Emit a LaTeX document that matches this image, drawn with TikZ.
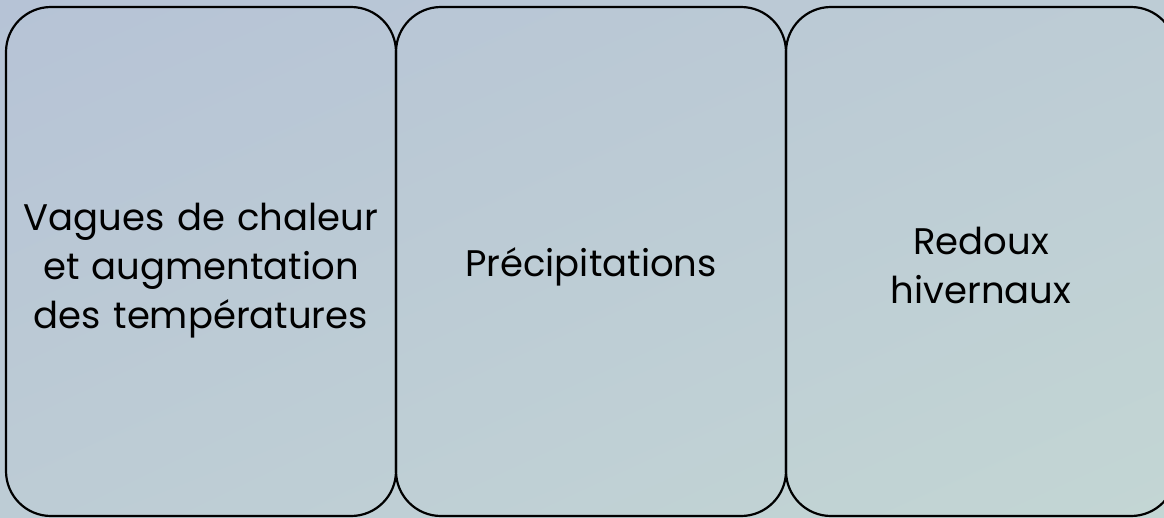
\documentclass[tikz,border=0pt]{standalone}
\usepackage{fontspec}
\setmainfont{Poppins}
\usetikzlibrary{positioning,shadings}
\definecolor{bgtopleft}{HTML}{B6C3D6}
\definecolor{bgbotright}{HTML}{C3D6D4}
\definecolor{bgmid}{HTML}{BDCCD5}
\tikzset{
  panel/.style={draw=black, line width=2.2pt, rounded corners=45pt,
    minimum width=390pt, minimum height=509pt, outer sep=0pt},
  caption/.style={inner sep=0pt, align=center, text width=380pt,
    font=\fontsize{37}{49}\selectfont}
}

\begin{document}
\begin{tikzpicture}[x=1pt, y=-1pt]
  \useasboundingbox (0,0) rectangle (1164,517);
  \shade[upper left=bgtopleft, lower right=bgbotright, upper right=bgmid, lower left=bgmid]
    (0,0) rectangle (1164,517);

  \node[panel] (heat) at (201,261.5) {};
  \node[panel, right=0pt of heat] (rain) {};
  \node[panel, right=0pt of rain] (thaw) {};

  \node[caption] (heattext) at ([yshift=-9pt]heat.center) {Vagues de chaleur\\et augmentation\\des températures};
  \node[caption] (raintext) at ([yshift=-5pt]rain.center) {Précipitations};
  \node[caption] (thawtext) at ([yshift=-4pt]thaw.center) {Redoux\\hivernaux};
\end{tikzpicture}
\end{document}
